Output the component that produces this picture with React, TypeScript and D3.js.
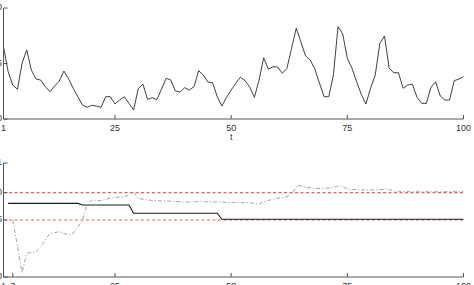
import React from "react";
import * as d3 from "d3";

// Top panel series (t = 1..100)
const seriesTop: number[] = [
  6.51, 4.26, 3.06, 2.68, 5.02, 6.22, 4.41, 3.6, 3.51, 2.91,
  2.46, 2.97, 3.42, 4.32, 3.63, 2.77, 2.01, 1.26, 1.05, 1.23,
  1.17, 1.05, 2.01, 2.01, 1.35, 1.71, 2.01, 1.41, 0.81, 2.73,
  3.15, 1.77, 1.92, 1.75, 2.68, 3.67, 3.51, 2.52, 2.43, 2.82,
  2.61, 2.91, 4.35, 3.96, 3.33, 3.27, 2.01, 1.17, 1.95, 2.61,
  3.22, 3.76, 3.45, 2.86, 1.95, 3.51, 5.52, 4.48, 4.71, 4.68,
  4.12, 4.57, 6.37, 8.17, 6.96, 5.68, 5.32, 4.5, 3.24, 2.01,
  2.01, 3.96, 8.32, 7.66, 5.47, 4.57, 3.36, 2.23, 1.35, 2.77,
  3.96, 6.82, 7.48, 4.57, 4.17, 4.17, 2.77, 3.06, 3.13, 1.95,
  1.41, 1.41, 2.86, 3.36, 2.07, 1.71, 1.71, 3.45, 3.6, 3.81,
];
const topYTicks = [0, 5, 10];
const topYLabels = ["0", "5", "10"];
const xTicksTop = [1, 25, 50, 75, 100];
const xTicksBottom = [1, 3, 25, 50, 75, 100];

// Bottom panel: solid step estimate
const solidT = [2, 17, 18, 28, 29, 47, 48, 100];
const solidV = [0.646, 0.646, 0.632, 0.632, 0.559, 0.559, 0.506, 0.506];

// Bottom panel: dashed running estimate
const dashT = [3, 5, 6, 8, 9, 11, 13, 15, 16, 18, 19, 20, 22, 23, 25, 27, 29, 30, 32, 35,
  36, 40, 43, 47, 50.5, 54, 56, 57, 59, 62, 63.4, 64.2, 65.6, 67.7, 70.6, 73.5, 75, 78, 81.4, 83.5, 85, 88.5, 92, 95.7, 100];
const dashV = [0.5, 0.038, 0.208, 0.222, 0.266, 0.383, 0.397, 0.368, 0.383, 0.5, 0.632, 0.675, 0.669, 0.682, 0.699, 0.704, 0.739, 0.69, 0.675, 0.667,
  0.667, 0.658, 0.661, 0.658, 0.652, 0.652, 0.638, 0.661, 0.682, 0.704, 0.748, 0.807, 0.792, 0.778, 0.778, 0.801, 0.772, 0.763, 0.763, 0.772, 0.754, 0.748, 0.748, 0.748, 0.748];

// Reference levels
const refLevels = [0.74, 0.5];
const botYTicks = [0, 0.5, 0.74, 1];
const botYLabels = ["0", "0.5", "0.740", "1"];

const W = 474;
const H = 285;
const axisColor = "#555";
const textColor = "#333";
const font = "Liberation Sans, Arial, sans-serif";

export default function App() {
  const x = d3.scaleLinear().domain([1, 100]).range([3.5, 463.5]);
  const yTop = d3.scaleLinear().domain([0, 10]).range([119, 8]);
  const yBot = d3.scaleLinear().domain([0, 1]).range([277, 163]);

  const topLine = d3
    .line<number>()
    .x((_, i) => x(i + 1))
    .y((d) => yTop(d))(seriesTop) as string;

  const solidLine = d3
    .line<number>()
    .x((_, i) => x(solidT[i]))
    .y((d) => yBot(d))(solidV) as string;

  const dashLine = d3
    .line<number>()
    .x((_, i) => x(dashT[i]))
    .y((d) => yBot(d))(dashV) as string;

  const x0 = x(1);

  return (
    <svg
      width={W}
      height={H}
      style={{ position: "fixed", left: 0, top: 0, background: "#fff" }}
      fontFamily={font}
    >
      {/* Top panel */}
      <g>
        <path d={topLine} fill="none" stroke="#2a2a2a" strokeWidth={0.9} strokeLinejoin="round" />
        <line x1={x0} x2={x0} y1={yTop(10)} y2={yTop(0)} stroke={axisColor} strokeWidth={1} />
        <line x1={x0} x2={x(100)} y1={yTop(0)} y2={yTop(0)} stroke={axisColor} strokeWidth={1} />
        {topYTicks.map((t, i) => (
          <g key={"tyt" + t}>
            <line x1={x0} x2={x0 + 4} y1={yTop(t)} y2={yTop(t)} stroke={axisColor} />
            <text x={2} y={yTop(t)} textAnchor="end" dominantBaseline="middle" fontSize={9} fill={textColor}>
              {topYLabels[i]}
            </text>
          </g>
        ))}
        {xTicksTop.map((t) => (
          <g key={"txt" + t}>
            <line x1={x(t)} x2={x(t)} y1={yTop(0)} y2={yTop(0) - 4} stroke={axisColor} />
            <text x={x(t)} y={130.5} textAnchor="middle" fontSize={9} fill={textColor}>
              {t}
            </text>
          </g>
        ))}
        <text x={x(50)} y={140} textAnchor="middle" fontSize={9} fill={textColor}>
          t
        </text>
      </g>

      {/* Bottom panel */}
      <g>
        {refLevels.map((r) => (
          <line
            key={"ref" + r}
            x1={x0}
            x2={x(100)}
            y1={yBot(r)}
            y2={yBot(r)}
            stroke="#e06262"
            strokeWidth={1.1}
            strokeDasharray="3,2.5"
          />
        ))}
        <path d={solidLine} fill="none" stroke="#1a1a1a" strokeWidth={1.1} />
        <path d={dashLine} fill="none" stroke="#8a8a8a" strokeWidth={0.8} strokeDasharray="4,2,1.2,2" />
        <line x1={x0} x2={x0} y1={yBot(1)} y2={yBot(0)} stroke={axisColor} strokeWidth={1} />
        <line x1={x0} x2={x(100)} y1={yBot(0)} y2={yBot(0)} stroke={axisColor} strokeWidth={1} />
        {botYTicks.map((t, i) => (
          <g key={"byt" + t}>
            <line x1={x0} x2={x0 + 4} y1={yBot(t)} y2={yBot(t)} stroke={axisColor} />
            <text x={2} y={yBot(t)} textAnchor="end" dominantBaseline="middle" fontSize={9} fill={textColor}>
              {botYLabels[i]}
            </text>
          </g>
        ))}
        {xTicksBottom.map((t) => (
          <g key={"bxt" + t}>
            <line x1={x(t)} x2={x(t)} y1={yBot(0)} y2={yBot(0) - 4} stroke={axisColor} />
            <text x={x(t)} y={288.5} textAnchor="middle" fontSize={9} fill={textColor}>
              {t}
            </text>
          </g>
        ))}
      </g>
    </svg>
  );
}
